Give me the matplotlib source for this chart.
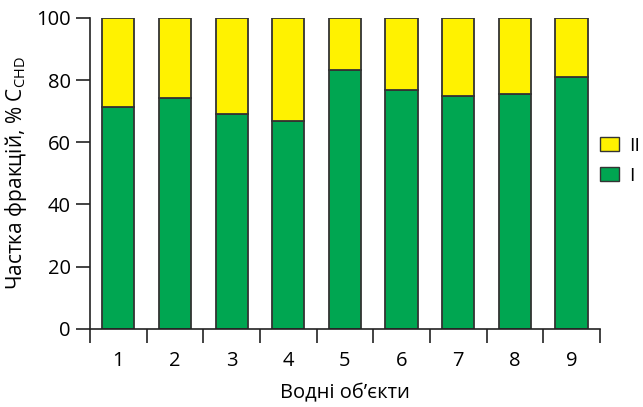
import numpy as np
import matplotlib
matplotlib.use("Agg")
import matplotlib.pyplot as plt
from matplotlib.patches import Patch

plt.rcParams['font.family'] = ['Open Sans', 'DejaVu Sans']
plt.rcParams['mathtext.fontset'] = 'custom'
plt.rcParams['mathtext.rm'] = 'Open Sans'

# ── data ─────────────────────────────────────────────────────────────────────
objects   = ["1", "2", "3", "4", "5", "6", "7", "8", "9"]
frac_I    = [71.5, 74.4, 69.0, 66.9, 83.2, 76.9, 74.9, 75.6, 81.0]
frac_II   = [100 - v for v in frac_I]

GREEN, YELLOW, EDGE = "#00a651", "#fff200", "#333333"

# ── plot ─────────────────────────────────────────────────────────────────────
fig = plt.figure(figsize=(6.43, 4.07), dpi=100)
ax = fig.add_axes([0.14, 0.192, 0.793, 0.764])

x = np.arange(1, len(objects) + 1)
ax.bar(x, frac_I, width=0.57, color=GREEN, edgecolor=EDGE, linewidth=1.3)
ax.bar(x, frac_II, bottom=frac_I, width=0.57, color=YELLOW, edgecolor=EDGE, linewidth=1.3)

ax.set_xlim(0.5, len(objects) + 0.5)
ax.set_ylim(0, 100)
ax.spines[["top", "right"]].set_visible(False)
for s in ("left", "bottom"):
    ax.spines[s].set_linewidth(1.2)
    ax.spines[s].set_color("#222222")

ax.set_yticks(range(0, 101, 20))
ax.tick_params(axis="y", length=10, width=1.2, labelsize=14.5, pad=4, color="#222222")
ax.set_xticks(x)
ax.set_xticklabels(objects)
ax.tick_params(axis="x", which="major", length=0, labelsize=14.5, pad=16)
ax.set_xticks(np.arange(0.5, len(objects) + 1), minor=True)
ax.tick_params(axis="x", which="minor", length=10, width=1.2, color="#222222")

ax.set_xlabel("Водні об’єкти", fontsize=14.5, labelpad=9)
ax.set_ylabel("Частка фракцій, % C$_{\\mathrm{CHD}}$", fontsize=15, labelpad=5)

handles = [Patch(facecolor=YELLOW, edgecolor=EDGE, label="II"),
           Patch(facecolor=GREEN, edgecolor=EDGE, label="I")]
fig.legend(handles=handles, loc="center left", bbox_to_anchor=(0.918, 0.605),
           frameon=False, fontsize=14, borderpad=0, handlelength=1.0,
           handleheight=0.7, handletextpad=0.5, labelspacing=0.6)

fig.savefig("out.png", dpi=100)
